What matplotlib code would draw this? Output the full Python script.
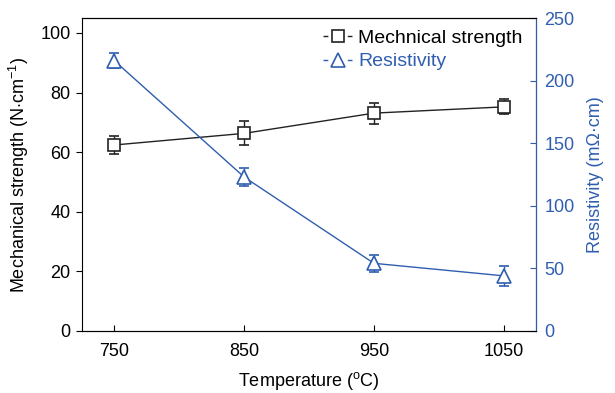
import matplotlib
matplotlib.use('Agg')
import matplotlib.pyplot as plt

plt.rcParams['font.family'] = ['Liberation Sans', 'DejaVu Sans']
plt.rcParams['font.size'] = 13
plt.rcParams['mathtext.fontset'] = 'custom'
plt.rcParams['mathtext.rm'] = 'Liberation Sans'
plt.rcParams['mathtext.it'] = 'Liberation Sans'

BLUE = '#2f5eb0'

# sintering temperature and measured properties
temperature = [750, 850, 950, 1050]
strength = [62.4, 66.3, 73.1, 75.2]
strength_err = [3.0, 4.0, 3.5, 2.5]
resistivity = [216, 123, 54, 44]
resistivity_err = [6, 7, 7, 8]

fig = plt.figure(figsize=(6.15, 3.93), dpi=100)
ax = fig.add_axes([0.133, 0.158, 0.739, 0.796])
ax2 = ax.twinx()

# mechanical strength on the left axis
h1 = ax.errorbar(temperature, strength, yerr=strength_err, color='#222222',
                 lw=1.0, marker='s', ms=8, mfc='white', mec='#222222',
                 mew=1.2, capsize=3.5, elinewidth=1.0, capthick=1.0, zorder=3)

# resistivity on the right axis
h2 = ax2.errorbar(temperature, resistivity, yerr=resistivity_err, color=BLUE,
                  lw=1.0, marker='^', ms=10, mfc='white', mec=BLUE,
                  mew=1.2, capsize=3.5, elinewidth=1.0, capthick=1.0, zorder=3)

ax.set_xlim(725, 1075)
ax.set_xticks(temperature)
ax.set_ylim(0, 105)
ax.set_yticks([0, 20, 40, 60, 80, 100])
ax2.set_ylim(0, 250)
ax2.set_yticks([0, 50, 100, 150, 200, 250])

ax.tick_params(axis='x', direction='in', length=4, pad=9)
ax.tick_params(axis='y', direction='out', length=4, pad=4)
ax2.tick_params(axis='y', direction='in', length=4, colors=BLUE, pad=6)

ax.set_xlabel('Temperature ($^{\\rm o}$C)', labelpad=7)
ax.set_ylabel('Mechanical strength (N$\\cdot$cm$^{-1}$)', labelpad=7)
ax2.set_ylabel('Resistivity (m\u03a9\u00b7cm)', color=BLUE, labelpad=9)

ax2.spines['right'].set_color(BLUE)
ax2.spines['left'].set_visible(False)

# legend keys drawn as "-marker-": short dash at each end of the handle
fs = 14
hl = 1.5
dash = 3.5
gap = hl * fs - 2 * dash
for h in (h1[0], h2[0]):
    h.set_linestyle((0, (dash, gap)))
leg = ax.legend([h1[0], h2[0]], ['Mechnical strength', 'Resistivity'],
                loc='upper right', bbox_to_anchor=(0.862, 0.945),
                bbox_transform=fig.transFigure, frameon=False, fontsize=fs,
                handlelength=hl, handletextpad=0.3, labelspacing=0.3,
                borderaxespad=0)
for h in (h1[0], h2[0]):
    h.set_linestyle('-')
leg.get_texts()[1].set_color(BLUE)

fig.savefig('out.png', dpi=100)
